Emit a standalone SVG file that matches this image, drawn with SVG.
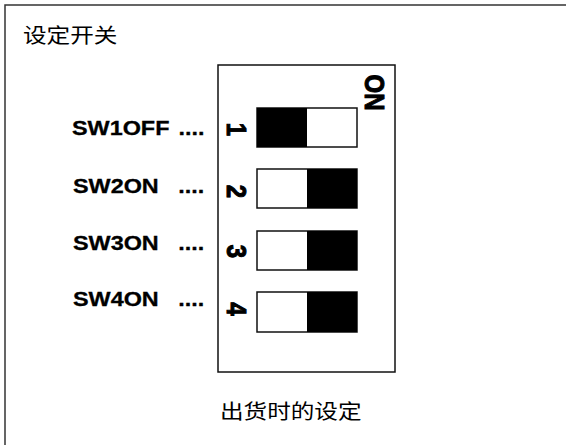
<svg xmlns="http://www.w3.org/2000/svg" width="566" height="445" viewBox="0 0 566 445">
<style>
.frame{fill:none;stroke:#333;stroke-width:1.5}
.panel{fill:#fff;stroke:#111;stroke-width:1.5}
.sw{fill:#fff;stroke:#111;stroke-width:1.5}
.on{fill:#000}
.lbl{font-family:"Liberation Sans",Arial,sans-serif;font-weight:bold;font-size:20px;fill:#000;stroke:#000;stroke-width:0.3}
.num{font-family:"Liberation Sans",Arial,sans-serif;font-weight:bold;font-size:24px;fill:#000;stroke:#000;stroke-width:0.9;text-anchor:middle}
.cjk{font-family:"Noto Sans CJK SC","Noto Sans",sans-serif;font-size:20px;fill:#000}
</style>
<rect class="frame" x="5" y="5" width="600" height="500"/>
<text id="title" class="cjk" transform="translate(23,43) scale(1.18,1)">设定开关</text>
<g id="dip-panel">
<rect class="panel" x="218" y="65" width="177" height="307"/>
<text class="num" font-size="24" transform="translate(375,92.5) scale(1.18,1) rotate(90)" y="8.6">ON</text>
</g>
<g id="sw1">
<rect class="sw" x="257" y="108" width="100" height="39"/>
<rect class="on" x="257" y="108" width="50" height="39"/>
<text class="num" transform="translate(237,129.5) scale(1.18,1) rotate(90)" y="8.6">1</text>
<text class="lbl" transform="translate(72,135) scale(1.17,1)">SW1OFF <tspan x="91">....</tspan></text>
</g>
<g id="sw2">
<rect class="sw" x="257" y="169" width="100" height="39"/>
<rect class="on" x="307" y="169" width="50" height="39"/>
<text class="num" transform="translate(237,191.5) scale(1.18,1) rotate(90)" y="8.6">2</text>
<text class="lbl" transform="translate(73,193) scale(1.17,1)">SW2ON <tspan x="90">....</tspan></text>
</g>
<g id="sw3">
<rect class="sw" x="257" y="231" width="100" height="39"/>
<rect class="on" x="307" y="231" width="50" height="39"/>
<text class="num" transform="translate(237,251.5) scale(1.18,1) rotate(90)" y="8.6">3</text>
<text class="lbl" transform="translate(73,249.5) scale(1.17,1)">SW3ON <tspan x="90">....</tspan></text>
</g>
<g id="sw4">
<rect class="sw" x="257" y="292" width="100" height="40"/>
<rect class="on" x="307" y="292" width="50" height="40"/>
<text class="num" transform="translate(237,309) scale(1.18,1) rotate(90)" y="8.6">4</text>
<text class="lbl" transform="translate(73,306) scale(1.17,1)">SW4ON <tspan x="90">....</tspan></text>
</g>
<text id="caption" class="cjk" transform="translate(220,419) scale(1.18,1)">出货时的设定</text>
<g id="connectors"/>
</svg>
